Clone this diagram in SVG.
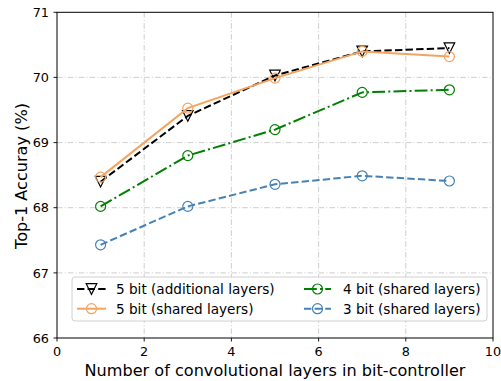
<svg xmlns="http://www.w3.org/2000/svg" width="501" height="381" viewBox="0 0 501 381">
  <style>
    text { font-family: "DejaVu Sans", "Liberation Sans", sans-serif; fill: #000; }
    .tick { font-size: 12.8px; }
    .lab { font-size: 16.1px; }
    .leg { font-size: 13.6px; }
    .grid { stroke: #c8c8c8; stroke-width: 0.9; stroke-dasharray: 5.5,2.2,1,2.2; fill: none; }
    .tk { stroke: #000; stroke-width: 0.9; }
    .s5a { fill: none; stroke: #000; stroke-width: 2; stroke-dasharray: 7.4,3.2; }
    .s5s { fill: none; stroke: #f4a460; stroke-width: 2; }
    .s4 { fill: none; stroke: #008000; stroke-width: 2; stroke-dasharray: 12.8,3.2,2,3.2; }
    .s3 { fill: none; stroke: #4682b4; stroke-width: 2; stroke-dasharray: 7.4,3.2; }
  </style>
  <defs>
    <marker id="mTri" markerUnits="userSpaceOnUse" markerWidth="14" markerHeight="14" refX="7" refY="7" overflow="visible">
      <path d="M1.7,1.7 L12.3,1.7 L7,12.3 Z" fill="none" stroke="#000" stroke-width="1.2"/>
    </marker>
    <marker id="mOr" markerUnits="userSpaceOnUse" markerWidth="14" markerHeight="14" refX="7" refY="7" overflow="visible">
      <circle cx="7" cy="7" r="5" fill="none" stroke="#f4a460" stroke-width="1.2"/>
    </marker>
    <marker id="mGr" markerUnits="userSpaceOnUse" markerWidth="14" markerHeight="14" refX="7" refY="7" overflow="visible">
      <circle cx="7" cy="7" r="5" fill="none" stroke="#008000" stroke-width="1.2"/>
    </marker>
    <marker id="mBl" markerUnits="userSpaceOnUse" markerWidth="14" markerHeight="14" refX="7" refY="7" overflow="visible">
      <circle cx="7" cy="7" r="5" fill="none" stroke="#4682b4" stroke-width="1.2"/>
    </marker>
  </defs>

  <rect width="501" height="381" fill="#fff"/>

  <!-- grid -->
  <g id="grid">
    <line class="grid" x1="144.2" y1="12.3" x2="144.2" y2="338"/>
    <line class="grid" x1="231.4" y1="12.3" x2="231.4" y2="338"/>
    <line class="grid" x1="318.6" y1="12.3" x2="318.6" y2="338"/>
    <line class="grid" x1="405.8" y1="12.3" x2="405.8" y2="338"/>
    <line class="grid" x1="57" y1="272.9" x2="493" y2="272.9"/>
    <line class="grid" x1="57" y1="207.7" x2="493" y2="207.7"/>
    <line class="grid" x1="57" y1="142.6" x2="493" y2="142.6"/>
    <line class="grid" x1="57" y1="77.4" x2="493" y2="77.4"/>
  </g>

  <!-- data series -->
  <g id="connectors">
    <polyline class="s5a" points="100.6,181.7 187.8,115.9 275,75.5 362.2,51.4 449.4,48.1" marker-start="url(#mTri)" marker-mid="url(#mTri)" marker-end="url(#mTri)"/>
    <polyline class="s5s" points="100.6,177.1 187.8,108.1 275,78.1 362.2,51.4 449.4,56.6" marker-start="url(#mOr)" marker-mid="url(#mOr)" marker-end="url(#mOr)"/>
    <polyline class="s4" points="100.6,206.4 187.8,155.6 275,129.6 362.2,92.4 449.4,89.8" marker-start="url(#mGr)" marker-mid="url(#mGr)" marker-end="url(#mGr)"/>
    <polyline class="s3" points="100.6,244.8 187.8,206.4 275,184.3 362.2,175.8 449.4,181.0" marker-start="url(#mBl)" marker-mid="url(#mBl)" marker-end="url(#mBl)"/>
  </g>

  <!-- axes frame and ticks -->
  <g id="axes">
    <rect x="57" y="12.3" width="436" height="325.7" fill="none" stroke="#000" stroke-width="1"/>
    <line class="tk" x1="57" y1="338" x2="57" y2="341.5"/>
    <line class="tk" x1="144.2" y1="338" x2="144.2" y2="341.5"/>
    <line class="tk" x1="231.4" y1="338" x2="231.4" y2="341.5"/>
    <line class="tk" x1="318.6" y1="338" x2="318.6" y2="341.5"/>
    <line class="tk" x1="405.8" y1="338" x2="405.8" y2="341.5"/>
    <line class="tk" x1="493" y1="338" x2="493" y2="341.5"/>
    <line class="tk" x1="53.5" y1="338" x2="57" y2="338"/>
    <line class="tk" x1="53.5" y1="272.9" x2="57" y2="272.9"/>
    <line class="tk" x1="53.5" y1="207.7" x2="57" y2="207.7"/>
    <line class="tk" x1="53.5" y1="142.6" x2="57" y2="142.6"/>
    <line class="tk" x1="53.5" y1="77.4" x2="57" y2="77.4"/>
    <line class="tk" x1="53.5" y1="12.3" x2="57" y2="12.3"/>
    <g class="tick" text-anchor="middle">
      <text x="57" y="355.5">0</text>
      <text x="144.2" y="355.5">2</text>
      <text x="231.4" y="355.5">4</text>
      <text x="318.6" y="355.5">6</text>
      <text x="405.8" y="355.5">8</text>
      <text x="493" y="355.5">10</text>
    </g>
    <g class="tick" text-anchor="end">
      <text x="49" y="342.6">66</text>
      <text x="49" y="277.5">67</text>
      <text x="49" y="212.3">68</text>
      <text x="49" y="147.2">69</text>
      <text x="49" y="82">70</text>
      <text x="49" y="16.9">71</text>
    </g>
    <text class="lab" x="275" y="376" text-anchor="middle">Number of convolutional layers in bit-controller</text>
    <text class="lab" transform="translate(27,176) rotate(-90)" text-anchor="middle">Top-1 Accuray (%)</text>
  </g>

  <!-- legend -->
  <g id="legend">
    <rect x="72" y="277" width="415" height="44" rx="3" fill="#fff" fill-opacity="0.8" stroke="#d0d0d0" stroke-width="1"/>
    <polyline class="s5a" points="77,289 91.5,289 106,289" marker-mid="url(#mTri)"/>
    <polyline class="s5s" points="77,308.7 91.5,308.7 106,308.7" marker-mid="url(#mOr)"/>
    <polyline class="s4" points="304,289 317.5,289 331,289" marker-mid="url(#mGr)"/>
    <polyline class="s3" points="304,308.7 317.5,308.7 331,308.7" marker-mid="url(#mBl)"/>
    <g class="leg">
      <text x="116" y="293.8">5 bit (additional layers)</text>
      <text x="116" y="313.5">5 bit (shared layers)</text>
      <text x="343" y="293.8">4 bit (shared layers)</text>
      <text x="343" y="313.5">3 bit (shared layers)</text>
    </g>
  </g>
</svg>
